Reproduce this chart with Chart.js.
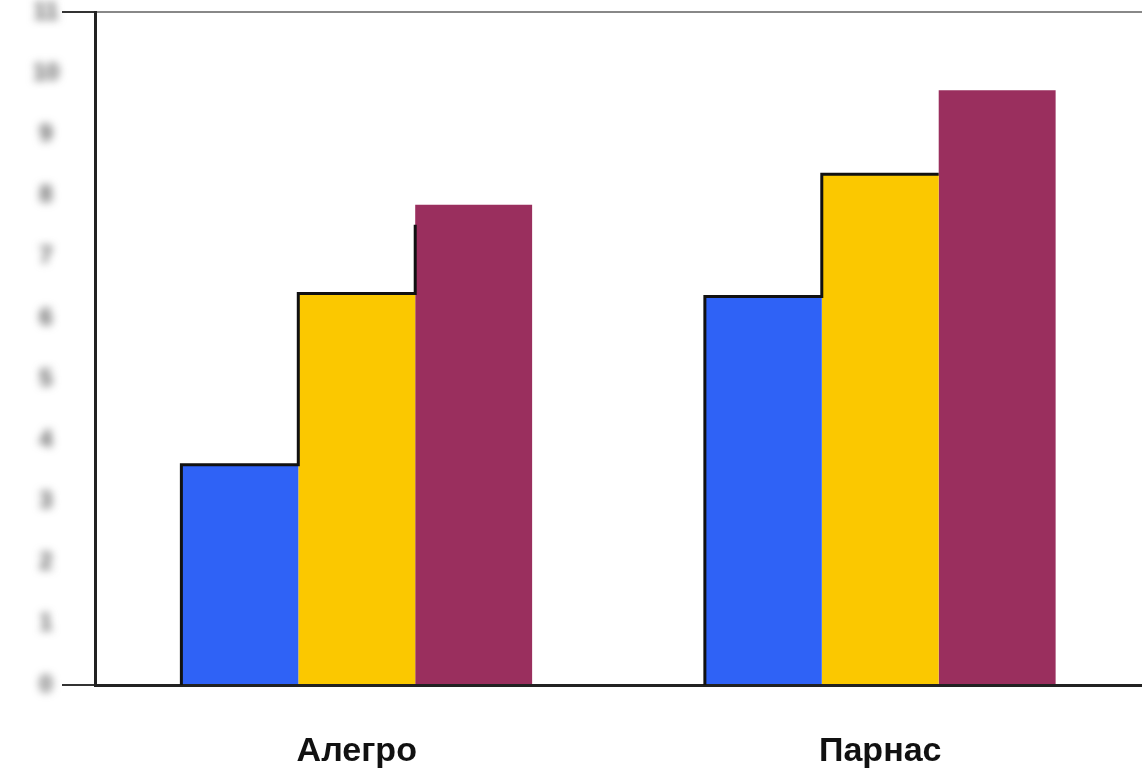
<!DOCTYPE html>
<html>
<head>
<meta charset="utf-8">
<script src="https://cdn.jsdelivr.net/npm/chart.js@4.4.1/dist/chart.umd.min.js"></script>
<style>
  html, body { margin: 0; padding: 0; background: #fff; }
  canvas { display: block; }
</style>
</head>
<body>
<canvas id="chart" width="1142" height="773"></canvas>
<script>
// categories and three series of bars
const categories = ['Алегро', 'Парнас']
const seriesBlue = [3.6, 6.35]
const seriesYellow = [6.4, 8.35]
const seriesPurple = [7.85, 9.72]
const yTicks = [0, 1, 2, 3, 4, 5, 6, 7, 8, 9, 10, 11]

const yMax = yTicks[yTicks.length - 1]

// blurred grey tick labels at the left
const blurLabels = {
    id: 'blurLabels',
    afterDraw(chart) {
        const ctx = chart.ctx
        const y = chart.scales.y
        ctx.save()
        ctx.filter = 'blur(4px)'
        ctx.fillStyle = '#5c5c5c'
        ctx.font = 'bold 24px "Liberation Sans", Arial'
        ctx.textAlign = 'center'
        ctx.textBaseline = 'middle'
        yTicks.forEach(function(v) {
            ctx.fillText(String(v), 46, y.getPixelForValue(v))
        })
        ctx.restore()
    }
}

// black step outline over the tops of each group of bars
const stepOutline = {
    id: 'stepOutline',
    afterDatasetsDraw(chart) {
        const ctx = chart.ctx
        const base = chart.scales.y.getPixelForValue(0)
        const b = chart.getDatasetMeta(0).data
        const yl = chart.getDatasetMeta(1).data
        const p = chart.getDatasetMeta(2).data
        ctx.save()
        ctx.strokeStyle = '#111'
        ctx.lineWidth = 3
        ctx.lineJoin = 'miter'
        for (let i = 0; i < categories.length; i++) {
            const x0 = b[i].x - b[i].width / 2
            const x1 = yl[i].x - yl[i].width / 2
            const x2 = p[i].x - p[i].width / 2
            ctx.beginPath()
            ctx.moveTo(x0, base)
            ctx.lineTo(x0, b[i].y)
            ctx.lineTo(x1, b[i].y)
            ctx.lineTo(x1, yl[i].y)
            ctx.lineTo(x2, yl[i].y)
            if (i === 0) ctx.lineTo(x2, p[i].y + 20)
            ctx.stroke()
        }
        ctx.restore()
    }
}

let chartGraph = new Chart(document.getElementById('chart'), {
    type: 'bar',
    data: {
        labels: categories,
        datasets: [
            { data: seriesBlue, backgroundColor: '#2f62f6' },
            { data: seriesYellow, backgroundColor: '#fbc800' },
            { data: seriesPurple, backgroundColor: '#9a2f5e' }
        ]
    },
    options: {
        responsive: false,
        animation: false,
        layout: { padding: { top: 12, right: 0, left: 0, bottom: 0 } },
        plugins: {
            legend: { display: false },
            tooltip: { enabled: false }
        },
        datasets: {
            bar: { barPercentage: 1.0, categoryPercentage: 0.67 }
        },
        scales: {
            x: {
                grid: { display: false },
                border: { color: '#222', width: 3 },
                ticks: {
                    color: '#111',
                    padding: 38,
                    font: { family: '"Liberation Sans Narrow", "Liberation Sans", Arial', size: 34, weight: 'bold' }
                },
                afterFit(scale) { scale.height = 88 }
            },
            y: {
                min: 0,
                max: yMax,
                ticks: { display: false, stepSize: 1 },
                border: { color: '#222', width: 3 },
                grid: {
                    drawTicks: true,
                    tickLength: 33,
                    lineWidth: 2,
                    color: c => c.tick && c.tick.value === yMax ? '#888' : 'transparent',
                    tickColor: c => c.tick && (c.tick.value === yMax || c.tick.value === 0) ? '#333' : 'transparent'
                },
                afterFit(scale) { scale.width = 95 }
            }
        }
    },
    plugins: [blurLabels, stepOutline]
});
</script>
</body>
</html>
